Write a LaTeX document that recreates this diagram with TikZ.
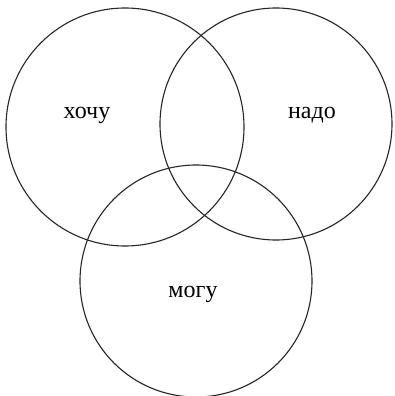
\documentclass[tikz,border=0pt]{standalone}
\usepackage{fontspec}
\setmainfont{Liberation Serif}
\begin{document}
\begin{tikzpicture}[x=1pt,y=-1pt,
  ring/.style={draw=black!85,line width=1.1pt},
  lbl/.style={font=\fontsize{24}{26}\selectfont,text=black,anchor=base,inner sep=0pt}]
\useasboundingbox[fill=white] (0,0) rectangle (395,396);
\begin{scope}
\clip (0,0) rectangle (395,396);
\node[ring,circle,minimum size=238pt,inner sep=0pt] (want) at (125,127) {};
\node[ring,circle,minimum size=232pt,inner sep=0pt] (need) at (276,124) {};
\node[ring,circle,minimum size=232pt,inner sep=0pt] (can) at (196,281) {};
\end{scope}
\node[lbl] (twant) at (87,118) {хочу};
\node[lbl] (tneed) at (312,118) {надо};
\node[lbl] (tcan) at (193,297) {могу};
\end{tikzpicture}
\end{document}
